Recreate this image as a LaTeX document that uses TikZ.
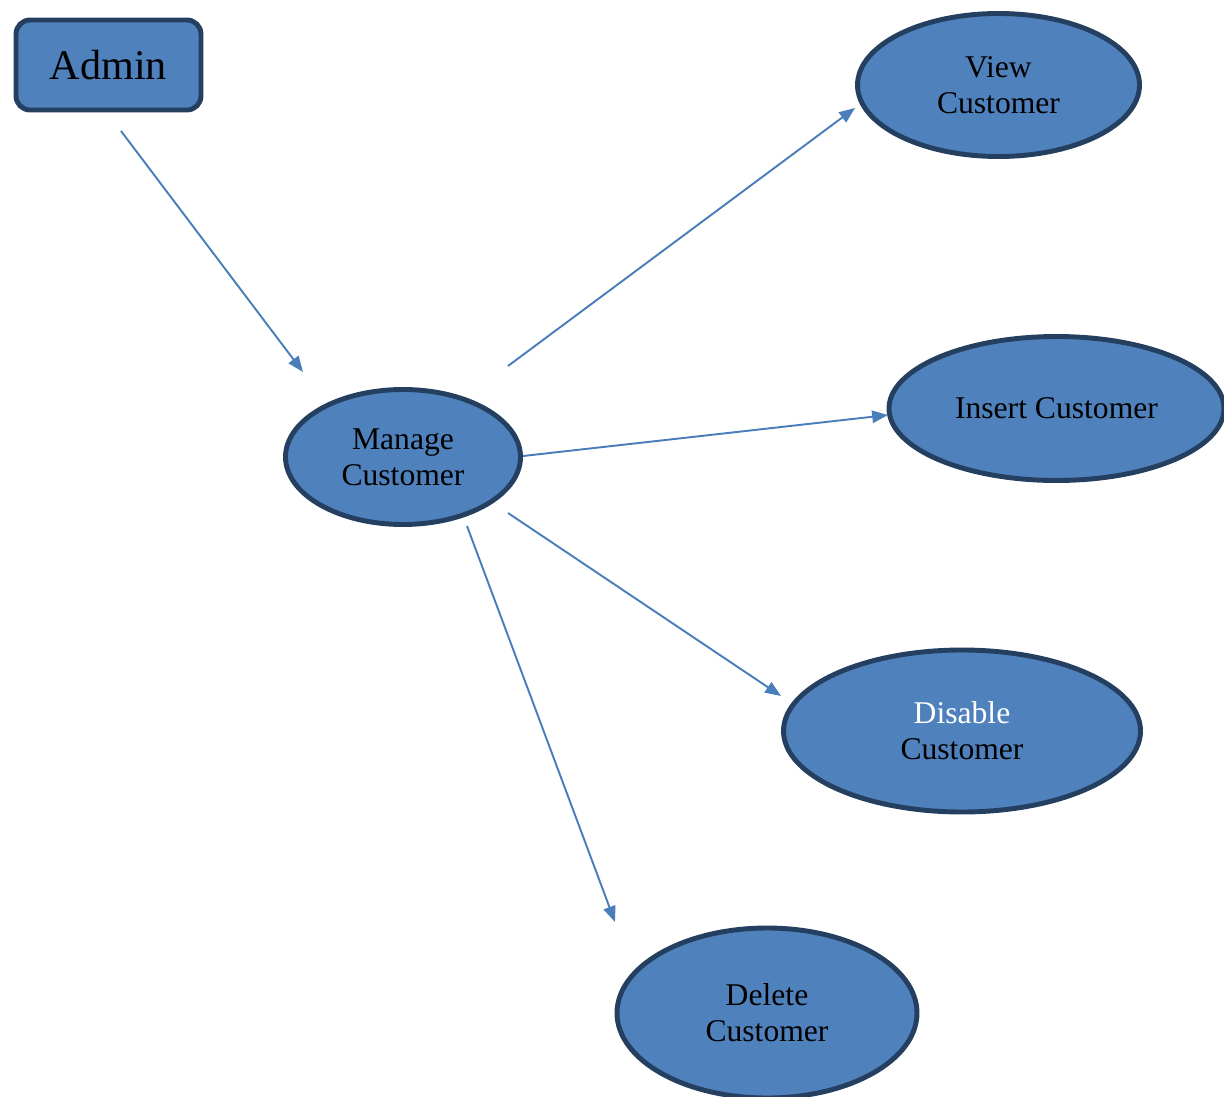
\documentclass[tikz,border=0pt]{standalone}
\usepackage{fontspec}
\setmainfont{Liberation Serif}
\usetikzlibrary{arrows.meta,shapes.geometric}
\definecolor{boxfill}{HTML}{4F81BD}
\definecolor{boxline}{HTML}{243F60}
\definecolor{arrowline}{HTML}{4A7EBB}
\tikzstyle{actor} = [draw=boxline, fill=boxfill, rectangle, rounded corners=0.28cm,
    line width=2.8pt, minimum width=3.7cm, minimum height=1.8cm,
    font=\fontsize{24}{28}\selectfont]
\tikzstyle{usecase} = [draw=boxline, fill=boxfill, ellipse, line width=2.8pt,
    inner sep=1pt, align=center, font=\fontsize{18}{20.5}\selectfont]
\tikzstyle{link} = [->, draw=arrowline, line width=1.1pt]

\begin{document}
\begin{tikzpicture}[>={Triangle[length=9pt,width=7pt]}]
    \useasboundingbox (0,0) rectangle (24.48,-21.94);
    \node [actor] (admin) at (2.17,-1.3) {Admin};
    \node [usecase, minimum width=4.7cm, minimum height=2.7cm] (manage) at (8.06,-9.14) {Manage\\Customer};
    \node [usecase, minimum width=5.64cm, minimum height=2.86cm] (view) at (19.97,-1.7) {View\\Customer};
    \node [usecase, minimum width=6.7cm, minimum height=2.88cm] (insert) at (21.13,-8.17) {Insert Customer};
    \node [usecase, minimum width=7.14cm, minimum height=3.24cm] (disable) at (19.24,-14.62) {\textcolor{white}{Disable}\\Customer};
    \node [usecase, minimum width=6.0cm, minimum height=3.4cm] (delete) at (15.34,-20.26) {Delete\\Customer};
    % arrow ends
    \coordinate (admin out) at (2.42,-2.62);
    \coordinate (manage in) at (6.06,-7.44);
    \coordinate (view out) at (10.16,-7.32);
    \coordinate (view in) at (17.1,-2.16);
    \coordinate (insert out) at (10.46,-9.12);
    \coordinate (insert in) at (17.76,-8.3);
    \coordinate (disable out) at (10.16,-10.26);
    \coordinate (disable in) at (15.62,-13.92);
    \coordinate (delete out) at (9.34,-10.52);
    \coordinate (delete in) at (12.3,-18.44);
    \draw [link] (admin out) -- (manage in);
    \draw [link] (view out) -- (view in);
    \draw [link] (insert out) -- (insert in);
    \draw [link] (disable out) -- (disable in);
    \draw [link] (delete out) -- (delete in);
\end{tikzpicture}
\end{document}
